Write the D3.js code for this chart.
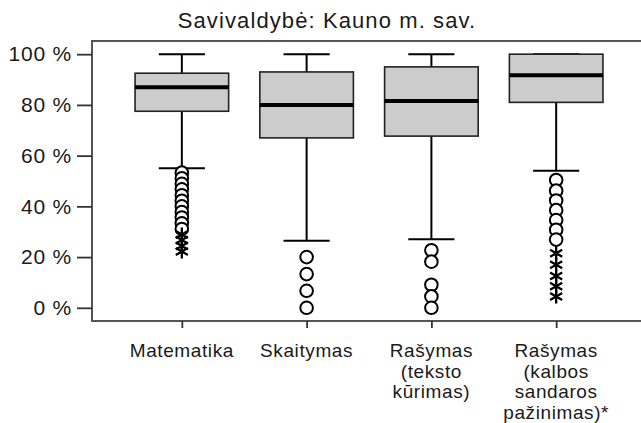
<!DOCTYPE html>
<html>
<head>
<meta charset="utf-8">
<script src="https://cdn.jsdelivr.net/npm/d3@7"></script>
<style>
  html, body { margin: 0; padding: 0; background: #fff; overflow: hidden; }
  svg { display: block; }
  text { font-family: "Liberation Sans", Arial, sans-serif; fill: #1a1a1a; }
</style>
</head>
<body>
<svg id="chart" width="641" height="423"></svg>
<script>
const title = "Savivaldybė: Kauno m. sav.";
const categories = ["Matematika", "Skaitymas", "Rašymas (teksto kūrimas)", "Rašymas (kalbos sandaros pažinimas)*"];
const categoryLabelLines = [
  ["Matematika"],
  ["Skaitymas"],
  ["Rašymas", "(teksto", "kūrimas)"],
  ["Rašymas", "(kalbos", "sandaros", "pažinimas)*"]
];
const whiskerLow  = [55, 26.4, 27, 54];
const q1          = [77.5, 67, 67.7, 81];
const median      = [87, 80, 81.5, 91.7];
const q3          = [92.5, 93, 95, 100];
const whiskerHigh = [100, 100, 100, 100];
const outliers = [
  [53.3, 51.1, 48.9, 46.7, 44.4, 42.2, 40.0, 37.8, 35.6, 33.3, 31.1],
  [20, 13.3, 6.7, 0],
  [22.7, 18.2, 9.1, 4.5, 0],
  [50.4, 46.2, 42.3, 38.5, 34.6, 30.8, 26.9]
];
const extremes = [
  [28.9, 26.7, 24.4, 22.2],
  [],
  [],
  [21.5, 17, 12.5, 8.5, 4.5]
];
const yTicks = [0, 20, 40, 60, 80, 100];

const svg = d3.select("#chart");
const frame = { left: 92, right: 646, top: 41, bottom: 321 };

const x = d3.scalePoint().domain(categories).range([frame.left, frame.right]).padding(0.72);
const y = d3.scaleLinear().domain([-5.2, 105.2]).range([frame.bottom, frame.top]);
const step = x.step();
const boxW = step * 0.75;
const capW = step * 0.37;

// title
svg.append("text").attr("x", 327).attr("y", 28).attr("text-anchor", "middle")
  .style("font-size", "22px").style("letter-spacing", "1.1px").text(title);

// frame (right side lies beyond the picture edge)
const fr = [
  [frame.left, frame.top, frame.right, frame.top],
  [frame.left, frame.bottom, frame.right, frame.bottom],
  [frame.left, frame.top, frame.left, frame.bottom]
];
fr.forEach(([x1, y1, x2, y2]) => {
  svg.append("line").attr("x1", x1).attr("y1", y1).attr("x2", x2).attr("y2", y2)
    .attr("stroke", "#555").attr("stroke-width", 2).attr("stroke-linecap", "square");
});

// y axis
const yAxis = d3.axisLeft(y).tickValues(yTicks).tickSize(15).tickPadding(5)
  .tickFormat(d => d + " %");
const yg = svg.append("g").attr("transform", `translate(${frame.left},0)`).call(yAxis);
yg.select(".domain").remove();
yg.selectAll(".tick line").attr("stroke", "#333").attr("stroke-width", 1.8);
yg.selectAll(".tick text").style("font-size", "21px").style("letter-spacing", "0.8px")
  .attr("fill", "#1a1a1a").style("font-family", '"Liberation Sans", Arial, sans-serif');

// x axis
const xAxis = d3.axisBottom(x).tickSize(7).tickFormat("");
const xg = svg.append("g").attr("transform", `translate(0,${frame.bottom})`).call(xAxis);
xg.select(".domain").remove();
xg.selectAll(".tick line").attr("stroke", "#333").attr("stroke-width", 1.8);

categories.forEach((c, i) => {
  categoryLabelLines[i].forEach((ln, j) => {
    svg.append("text").attr("x", x(c)).attr("y", 357 + j * 20.5)
      .attr("text-anchor", "middle").style("font-size", "19px")
      .style("letter-spacing", "0.6px").text(ln);
  });
});

// boxes
categories.forEach((c, i) => {
  const cx = x(c);
  const g = svg.append("g");
  g.append("line").attr("x1", cx).attr("x2", cx).attr("y1", y(q1[i])).attr("y2", y(whiskerLow[i]))
    .attr("stroke", "#000").attr("stroke-width", 2);
  g.append("line").attr("x1", cx - capW / 2).attr("x2", cx + capW / 2)
    .attr("y1", y(whiskerLow[i])).attr("y2", y(whiskerLow[i]))
    .attr("stroke", "#000").attr("stroke-width", 2);
  g.append("line").attr("x1", cx).attr("x2", cx).attr("y1", y(q3[i])).attr("y2", y(whiskerHigh[i]))
    .attr("stroke", "#000").attr("stroke-width", 2);
  g.append("line").attr("x1", cx - capW / 2).attr("x2", cx + capW / 2)
    .attr("y1", y(whiskerHigh[i])).attr("y2", y(whiskerHigh[i]))
    .attr("stroke", "#000").attr("stroke-width", 2);
  g.append("rect").attr("x", cx - boxW / 2).attr("y", y(q3[i]))
    .attr("width", boxW).attr("height", y(q1[i]) - y(q3[i]))
    .attr("fill", "#cccccc").attr("stroke", "#222").attr("stroke-width", 1.6);
  g.append("line").attr("x1", cx - boxW / 2).attr("x2", cx + boxW / 2)
    .attr("y1", y(median[i])).attr("y2", y(median[i]))
    .attr("stroke", "#000").attr("stroke-width", 4);
  outliers[i].forEach(v => {
    g.append("circle").attr("cx", cx).attr("cy", y(v)).attr("r", 6.3)
      .attr("fill", "#fff").attr("stroke", "#000").attr("stroke-width", 2);
  });
  const starPath = d3.path();
  const s = 7;
  [90, 30, 150].forEach(a => {
    const r = a * Math.PI / 180;
    starPath.moveTo(-s * Math.cos(r), -s * Math.sin(r));
    starPath.lineTo(s * Math.cos(r), s * Math.sin(r));
  });
  extremes[i].forEach(v => {
    g.append("path").attr("d", starPath.toString())
      .attr("transform", `translate(${cx},${y(v)})`)
      .attr("fill", "none").attr("stroke", "#000").attr("stroke-width", 2.3);
  });
});
</script>
</body>
</html>
